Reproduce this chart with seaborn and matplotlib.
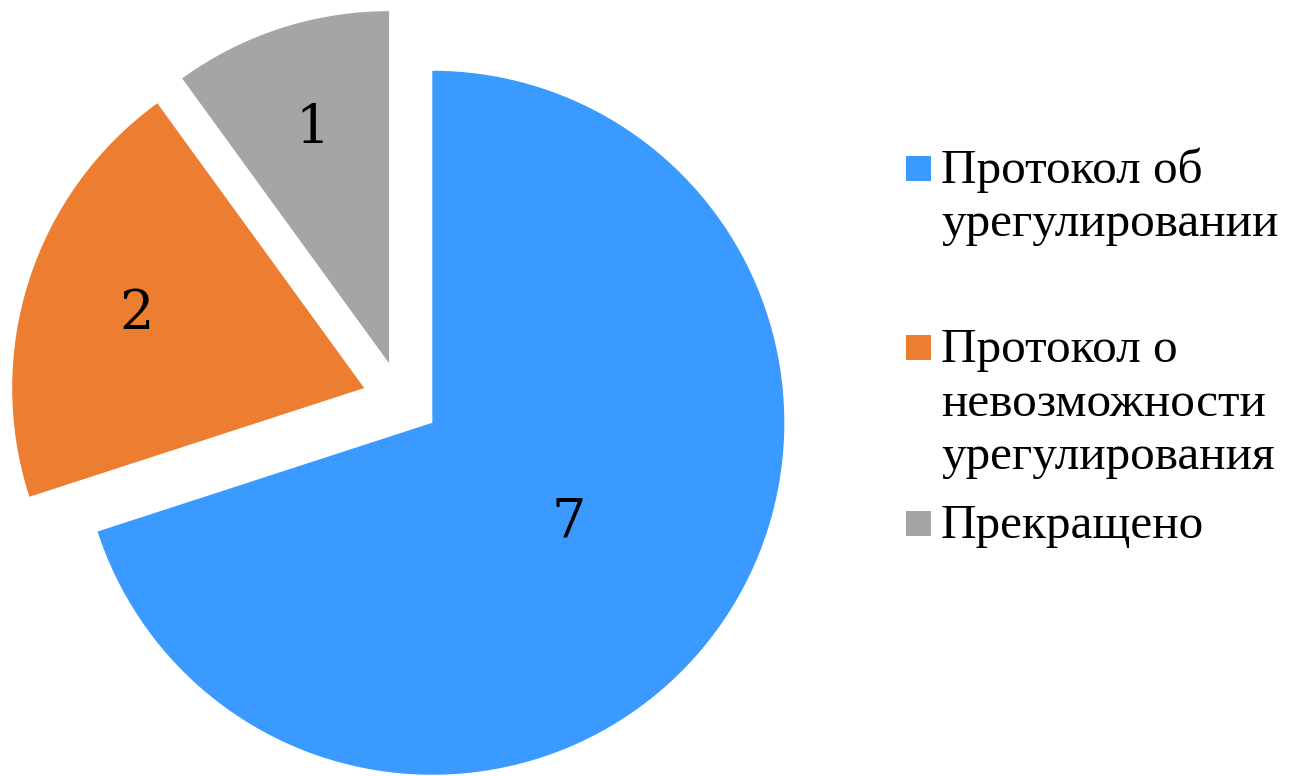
import numpy as np
import matplotlib
matplotlib.use("Agg")
import matplotlib.pyplot as plt
import seaborn as sns
from matplotlib.patches import Rectangle

# ---- data ----
categories = ["Протокол об\nурегулировании",
              "Протокол о\nневозможности\nурегулирования",
              "Прекращено"]
values = [7, 2, 1]
colors = ["#3A9AFF", "#ED7D31", "#A5A5A5"]

# ---- layout ----
W, H = 1316, 776
DPI = 100
cx_px, cy_px, r_px = 401, 400, 352
explode_frac = 0.11
label_dist = [0.48, 0.68, 0.70]

sns.set_style("white")
fig = plt.figure(figsize=(W / DPI, H / DPI), dpi=DPI)
ax = fig.add_axes([0, 0, 1, 1])

wedges, _ = ax.pie(values, colors=colors, startangle=90, counterclock=False,
                   explode=[explode_frac] * len(values), radius=1.0,
                   wedgeprops=dict(linewidth=0))
ax.set_aspect("auto")
ax.set_xlim(-cx_px / r_px, (W - cx_px) / r_px)
ax.set_ylim(-(H - cy_px) / r_px, cy_px / r_px)
ax.axis("off")

for w, v, d in zip(wedges, values, label_dist):
    mid = np.deg2rad((w.theta1 + w.theta2) / 2)
    x0, y0 = w.center
    ax.text(x0 + d * np.cos(mid), y0 + d * np.sin(mid), str(v),
            ha="center", va="center", fontsize=39, family="DejaVu Serif",
            color="black")

# ---- legend (manual, matching Excel layout) ----
entry_first_baseline = [183, 362, 538]
line_step = 53.5
text_x = 941
sq_x, sq = 906, 25
for lab, col, b0 in zip(categories, colors, entry_first_baseline):
    for i, line in enumerate(lab.split("\n")):
        fig.text(text_x / W, 1 - (b0 + i * line_step) / H, line,
                 ha="left", va="baseline", fontsize=35.5,
                 family="Liberation Serif", color="black")
    fig.patches.append(Rectangle((sq_x / W, 1 - (b0 - 2) / H), sq / W, sq / H,
                                 transform=fig.transFigure, facecolor=col,
                                 edgecolor="none"))

fig.savefig("out.png", dpi=DPI, facecolor="white")
